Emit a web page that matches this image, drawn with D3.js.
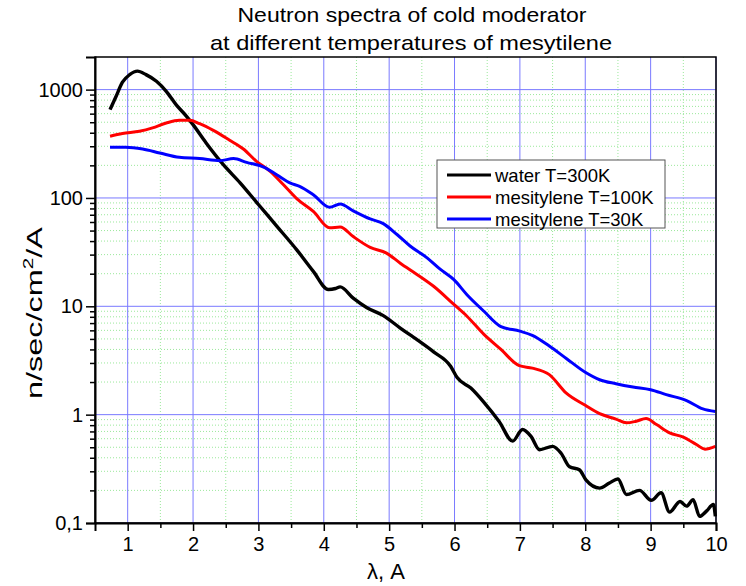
<!DOCTYPE html>
<html><head><meta charset="utf-8">
<script src="https://cdn.jsdelivr.net/npm/d3@7"></script>
<style>body{margin:0;background:#fff}svg{display:block}text{font-family:"Liberation Sans",Arial,sans-serif}</style>
</head><body>
<script>
const titleLines = ["Neutron spectra of cold moderator", "at different temperatures of mesytilene"];
const xLabel = "λ, A";
const seriesNames = ["water T=300K", "mesitylene T=100K", "mesitylene T=30K"];
const seriesColors = ["#000000", "#ff0000", "#0000ff"];
const xTicks = [1,2,3,4,5,6,7,8,9,10];
const yTicks = [0.1, 1, 10, 100, 1000];
const yTickLabels = ["0,1", "1", "10", "100", "1000"];

const waterX = [0.73,0.82,0.92,1.03,1.15,1.28,1.44,1.59,1.74,1.90,2.0,2.2,2.46,2.72,3.0,3.28,3.59,3.84,4.07,4.18,4.25,4.45,4.66,4.91,5.17,5.43,5.68,5.94,6.04,6.25,6.45,6.68,6.89,7.04,7.17,7.3,7.5,7.63,7.76,7.91,8.01,8.22,8.37,8.5,8.63,8.83,9.01,9.16,9.29,9.45,9.55,9.65,9.75,9.85,9.96,9.99];
const waterY = [653,860,1170,1375,1480,1375,1194,965,727,567,475,322,204,138,87,55,33,21,14.3,14.6,15.1,11.9,9.7,8.2,6.3,4.9,3.8,2.8,2.2,1.76,1.3,0.87,0.57,0.73,0.63,0.475,0.51,0.44,0.33,0.31,0.25,0.21,0.234,0.255,0.183,0.2,0.162,0.19,0.126,0.158,0.143,0.164,0.115,0.128,0.148,0.115];

const mes100X = [0.73,0.92,1.18,1.38,1.59,1.79,1.95,2.10,2.31,2.56,2.77,2.97,3.18,3.38,3.59,3.84,4.09,4.25,4.45,4.71,4.96,5.17,5.43,5.68,5.99,6.19,6.45,6.71,6.99,7.19,7.45,7.71,8.0,8.22,8.47,8.63,8.78,8.93,9.09,9.29,9.5,9.7,9.83,9.99];
const mes100Y = [371,393,412,443,492,521,521,485,421,341,283,218,176,133,98,75,53,54,44,35,31,25,19.6,15.3,10.4,8.1,5.5,4.0,2.83,2.69,2.34,1.58,1.22,1.02,0.91,0.84,0.87,0.92,0.81,0.68,0.62,0.53,0.48,0.51];

const mes30X = [0.73,0.97,1.23,1.49,1.79,2.10,2.41,2.62,2.82,3.08,3.28,3.49,3.63,3.84,4.09,4.25,4.45,4.71,4.91,5.12,5.32,5.58,5.78,5.99,6.19,6.45,6.71,7.0,7.19,7.45,7.71,8.0,8.22,8.47,8.73,9.0,9.24,9.55,9.8,9.99];
const mes30Y = [294,294,283,260,237,231,221,231,213,193,164,137,128,107,82,88,76,64,58,46,36,28,22,17.6,12.8,9.0,6.5,5.9,5.4,4.3,3.3,2.46,2.1,1.93,1.8,1.70,1.53,1.35,1.13,1.07];

const W = 746, H = 586;
const L = 95, R = 716, T = 57, B = 523;
const svg = d3.select("body").append("svg").attr("width", W).attr("height", H);

const x = d3.scaleLinear().domain([0.5, 10]).range([L, R]);
const y = d3.scaleLog().domain([0.1, 2000]).range([B, T]);

// minor grid
const minorX = d3.range(1.5, 10, 1);
const minorY = [];
[0.1, 1, 10, 100, 1000].forEach(d => { for (let k = 2; k <= 9; k++) { const v = d * k; if (v < 2000) minorY.push(v); } });
const g = svg.append("g");
g.selectAll(".mx").data(minorX).enter().append("line")
  .attr("x1", d => x(d)).attr("x2", d => x(d)).attr("y1", T).attr("y2", B)
  .attr("stroke", "#9be89b").attr("stroke-width", 1).attr("stroke-dasharray", "1,2");
g.selectAll(".my").data(minorY).enter().append("line")
  .attr("x1", L).attr("x2", R).attr("y1", d => y(d)).attr("y2", d => y(d))
  .attr("stroke", "#9be89b").attr("stroke-width", 1).attr("stroke-dasharray", "1,2");
// major grid
g.selectAll(".gx").data(xTicks).enter().append("line")
  .attr("x1", d => x(d)).attr("x2", d => x(d)).attr("y1", T).attr("y2", B)
  .attr("stroke", "#7a7aff").attr("stroke-width", 1);
g.selectAll(".gy").data(yTicks).enter().append("line")
  .attr("x1", L).attr("x2", R).attr("y1", d => y(d)).attr("y2", d => y(d))
  .attr("stroke", "#7a7aff").attr("stroke-width", 1);

// series
const series = [
  {xs: waterX, ys: waterY},
  {xs: mes100X, ys: mes100Y},
  {xs: mes30X, ys: mes30Y}
];
const line = d3.line().x(d => x(d[0])).y(d => y(d[1])).curve(d3.curveMonotoneX);
series.forEach((s, i) => {
  const pts = s.xs.map((v, j) => [v, s.ys[j]]);
  svg.append("path").datum(pts).attr("d", line)
    .attr("fill", "none").attr("stroke", seriesColors[i]).attr("stroke-width", i === 0 ? 3.4 : 3)
    .attr("stroke-linejoin", "round");
});

// frame
svg.append("rect").attr("x", L).attr("y", T).attr("width", R - L).attr("height", B - T)
  .attr("fill", "none").attr("stroke", "#000").attr("stroke-width", 1.5);

// axes
const xAxis = d3.axisBottom(x).tickValues(xTicks).tickSize(8).tickFormat(d3.format("d"));
const xa = svg.append("g").attr("transform", `translate(0,${B})`).call(xAxis);
xa.select(".domain").attr("stroke-width", 2);
xa.selectAll("text").attr("font-size", 20).attr("dy", "0.85em").attr("fill", "#000");
const xMinorAxis = d3.axisBottom(x).tickValues(minorX).tickSize(5).tickFormat("");
const xm = svg.append("g").attr("transform", `translate(0,${B})`).call(xMinorAxis);
xm.select(".domain").remove();

const yAxis = d3.axisLeft(y).tickValues(yTicks).tickSize(9).tickFormat((d, i) => yTickLabels[i]);
const ya = svg.append("g").attr("transform", `translate(${L},0)`).call(yAxis);
ya.select(".domain").attr("stroke-width", 2);
ya.selectAll("text").attr("font-size", 20).attr("fill", "#000");
const yMinorAxis = d3.axisLeft(y).tickValues(minorY).tickSize(5).tickFormat("");
const ym = svg.append("g").attr("transform", `translate(${L},0)`).call(yMinorAxis);
ym.select(".domain").remove();
svg.selectAll(".tick line").attr("stroke-width", 1.5);

// titles
svg.append("text").attr("x", 412).attr("y", 22).attr("text-anchor", "middle").attr("font-size", 21)
  .attr("textLength", 349).attr("lengthAdjust", "spacingAndGlyphs").text(titleLines[0]);
svg.append("text").attr("x", 411).attr("y", 50).attr("text-anchor", "middle").attr("font-size", 21)
  .attr("textLength", 402).attr("lengthAdjust", "spacingAndGlyphs").text(titleLines[1]);
svg.append("text").attr("x", 386).attr("y", 579).attr("text-anchor", "middle").attr("font-size", 22).text(xLabel);
const yl = svg.append("text").attr("transform", "translate(42,313) rotate(-90)").attr("text-anchor", "middle").attr("font-size", 22)
  .attr("textLength", 172).attr("lengthAdjust", "spacingAndGlyphs");
yl.append("tspan").text("n/sec/cm");
yl.append("tspan").attr("font-size", 14).attr("dy", -9).text("2");
yl.append("tspan").attr("dy", 9).text("/A");

// legend
const lg = svg.append("g");
lg.append("rect").attr("x", 437).attr("y", 160).attr("width", 228).attr("height", 68)
  .attr("fill", "#fff").attr("stroke", "#555").attr("stroke-width", 1);
seriesNames.forEach((n, i) => {
  const yy = 175 + i * 22;
  lg.append("line").attr("x1", 447).attr("x2", 491).attr("y1", yy).attr("y2", yy)
    .attr("stroke", seriesColors[i]).attr("stroke-width", 3);
  lg.append("text").attr("x", 495).attr("y", yy + 6.5).attr("font-size", 18.5).text(n);
});
</script>
</body></html>
